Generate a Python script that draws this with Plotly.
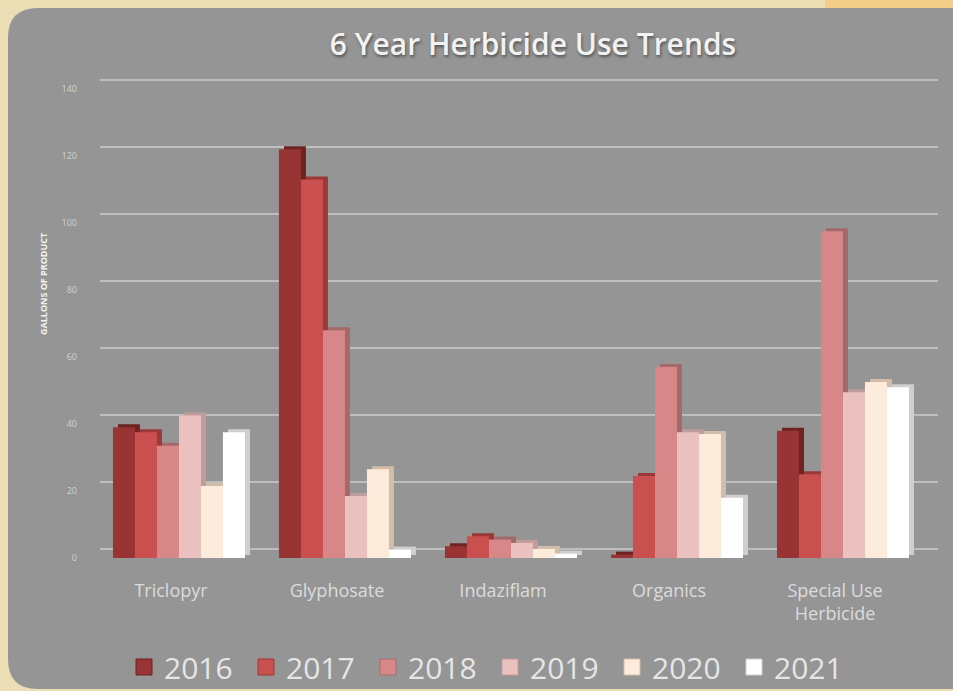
import plotly.graph_objects as go

# ---------------- data ----------------
categories = ["Triclopyr", "Glyphosate", "Indaziflam", "Organics", "Special Use Herbicide"]
tick_labels = ["Triclopyr", "Glyphosate", "Indaziflam", "Organics", "Special Use<br>Herbicide"]
years = ["2016", "2017", "2018", "2019", "2020", "2021"]

v2016 = [39, 122, 3.5, 1, 38]
v2017 = [37.5, 113, 6.5, 24.5, 25]
v2018 = [33.5, 68, 5.5, 57, 97.5]
v2019 = [42.5, 18.5, 4.5, 37.5, 49.5]
v2020 = [21.5, 26.5, 2.7, 37, 52.5]
v2021 = [37.5, 2.5, 1.3, 18, 51]
series = [v2016, v2017, v2018, v2019, v2020, v2021]

y_ticks = [0, 20, 40, 60, 80, 100, 120, 140]

# ---------------- styling ----------------
front_colors = ["#983434", "#C9504E", "#D78787", "#EBC1C0", "#FDEBDB", "#FFFFFF"]
side_colors = ["#6E2222", "#9A3937", "#A46A6A", "#C09C9B", "#D2BDAA", "#CFCFCF"]

W, H = 953, 691
PL, PR = 100, 938          # plot area, px
PT, PB = 78, 558
px_per_unit_y = 3.35
y_top = (PB - PT) / px_per_unit_y
x_range = [-0.476, 4.572]
px_per_cat = (PR - PL) / (x_range[1] - x_range[0])

bar_w = 22 / px_per_cat
group_start = -0.398
depth_dx = 5 / px_per_cat
depth_dy = 3 / px_per_unit_y

fig = go.Figure()

# side / top faces (drawn first, behind)
for i, vals in enumerate(series):
    fig.add_trace(go.Bar(
        x=categories, y=vals, base=depth_dy,
        offset=group_start + i * bar_w + depth_dx, width=bar_w,
        marker=dict(color=side_colors[i], line=dict(width=0)),
        showlegend=False, hoverinfo="skip",
    ))
# front faces
for i, vals in enumerate(series):
    fig.add_trace(go.Bar(
        x=categories, y=vals,
        offset=group_start + i * bar_w, width=bar_w,
        marker=dict(color=front_colors[i], line=dict(width=0)),
        name=years[i], showlegend=False,
    ))
# legend entries with large square swatches
for i, yr in enumerate(years):
    fig.add_trace(go.Scatter(
        x=[None], y=[None], mode="markers", name=yr,
        marker=dict(symbol="square", size=18, color=front_colors[i],
                    line=dict(width=1, color=side_colors[i])),
        showlegend=True,
    ))
# invisible trace on yaxis2 so the back-wall gridlines render
fig.add_trace(go.Scatter(x=[None], y=[None], yaxis="y2", showlegend=False, hoverinfo="skip"))


def px_x(p):
    return (p - PL) / (PR - PL)


def px_y(p):
    return (PB - p) / (PB - PT)


# rounded grey panel path in paper coords
x0, x1 = px_x(8), px_x(980)
y0, y1 = px_y(8), px_y(689)
rx, ry = 30 / (PR - PL), 30 / (PB - PT)
panel_path = (
    f"M{x0 + rx},{y0} L{x1 - rx},{y0} Q{x1},{y0} {x1},{y0 - ry} "
    f"L{x1},{y1 + ry} Q{x1},{y1} {x1 - rx},{y1} "
    f"L{x0 + rx},{y1} Q{x0},{y1} {x0},{y1 + ry} "
    f"L{x0},{y0 - ry} Q{x0},{y0} {x0 + rx},{y0} Z"
)

shapes = [
    dict(type="rect", xref="paper", yref="paper", layer="below",
         x0=px_x(825), x1=px_x(960), y0=px_y(-5), y1=px_y(40),
         fillcolor="#F2CE88", line=dict(width=0)),
    dict(type="path", xref="paper", yref="paper", layer="below",
         path=panel_path, fillcolor="#959595", line=dict(width=0)),
]

fig.update_layout(
    width=W, height=H,
    margin=dict(l=PL, r=W - PR, t=PT, b=H - PB, autoexpand=False),
    paper_bgcolor="#EBDDB4",
    plot_bgcolor="rgba(0,0,0,0)",
    barmode="overlay",
    shapes=shapes,
    title=dict(
        text="6 Year Herbicide Use Trends",
        x=533 / W, xanchor="center", xref="container",
        y=1 - 44 / H, yanchor="middle", yref="container",
        font=dict(family="Open Sans", size=30, color="#F2F2F2", weight=600,
                  shadow="1px 2px 3px rgba(0,0,0,0.45)"),
    ),
    xaxis=dict(
        range=x_range, type="category",
        tickmode="array", tickvals=categories, ticktext=tick_labels,
        showgrid=False, zeroline=False, showline=False, ticks="",
        tickfont=dict(family="Open Sans", size=18, color="#DCDCDC"),
        ticklabelstandoff=20, ticklabelshift=-8,
    ),
    yaxis=dict(
        range=[0, y_top], tickmode="array", tickvals=y_ticks,
        showgrid=False, zeroline=False, showline=False, ticks="",
        tickfont=dict(family="Open Sans", size=9, color="#D2D2D2"),
        ticklabelstandoff=22,
    ),
    yaxis2=dict(
        overlaying="y", range=[-9 / px_per_unit_y, y_top - 9 / px_per_unit_y],
        tickmode="array", tickvals=y_ticks, showticklabels=False,
        showgrid=True, gridcolor="#BEBEBE", gridwidth=2,
        zeroline=False, showline=False, ticks="",
    ),
    legend=dict(
        orientation="h", xref="container", yref="container",
        x=124 / W, xanchor="left", y=1 - 667 / H, yanchor="middle",
        font=dict(family="Open Sans", size=30, color="#E6E6E6"),
        bgcolor="rgba(0,0,0,0)", entrywidth=77, entrywidthmode="pixels",
        itemsizing="trace",
    ),
    annotations=[
        dict(text="GALLONS OF PRODUCT", textangle=-90,
             xref="paper", yref="paper", x=px_x(43), y=px_y(284),
             xanchor="center", yanchor="middle", showarrow=False,
             font=dict(family="Open Sans", size=9, color="#F2F2F2", weight=700)),
    ],
)

fig.write_html(
    "out.html",
    config={"displayModeBar": False},
    post_script="document.body.style.margin='0px';document.documentElement.style.overflow='hidden';",
)
